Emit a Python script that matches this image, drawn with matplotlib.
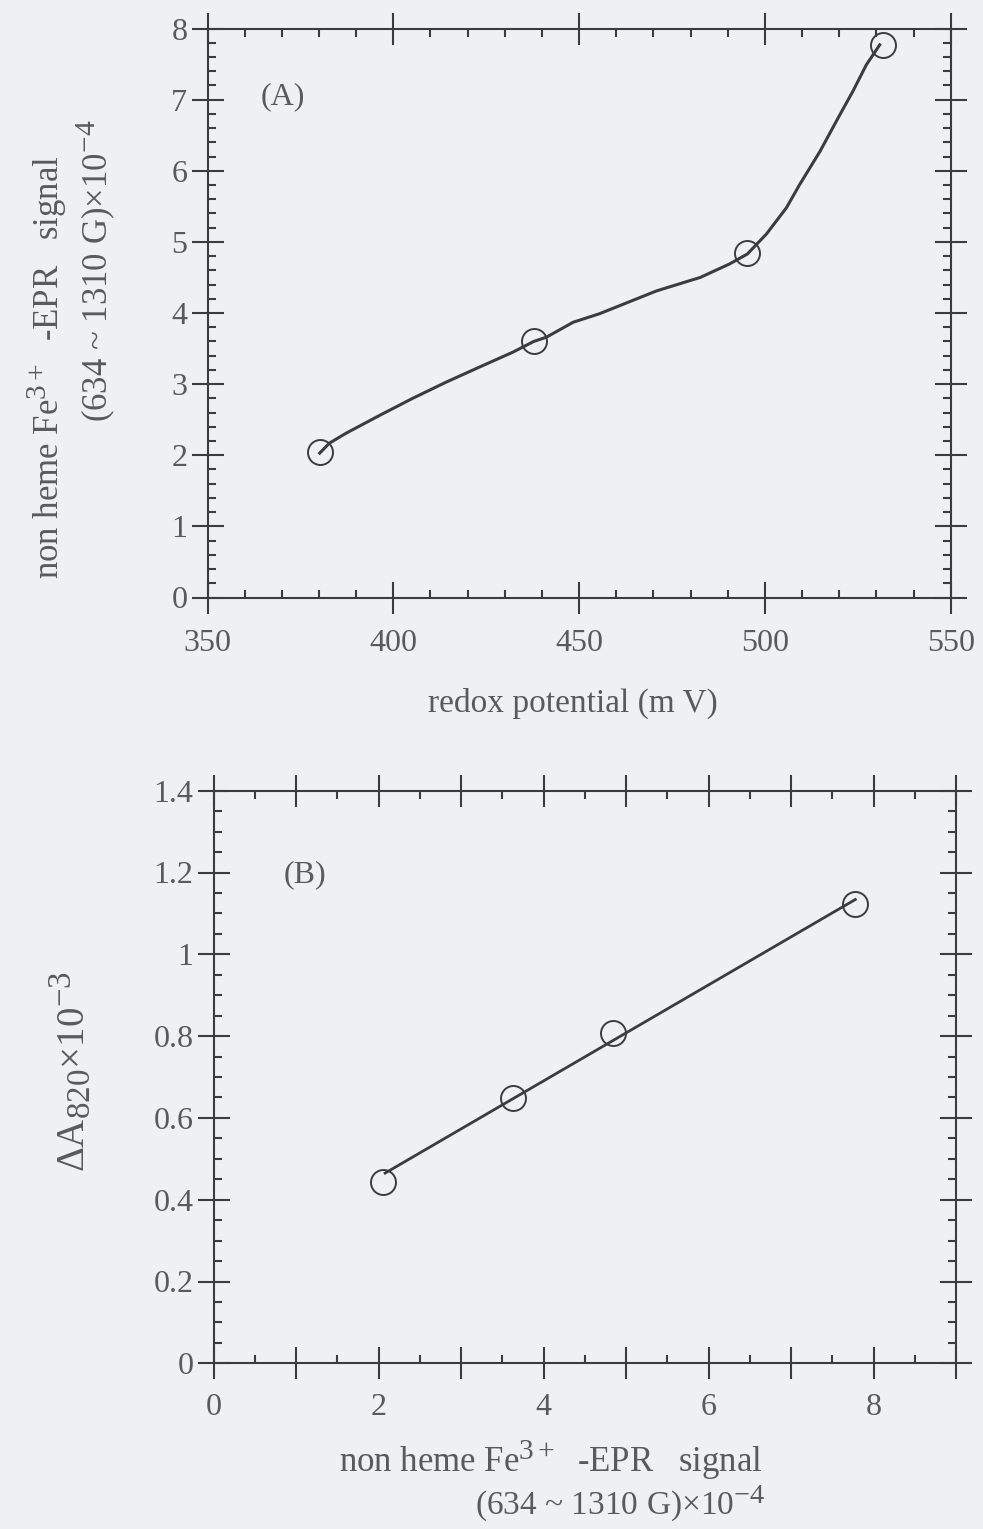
import matplotlib
matplotlib.use('Agg')
import matplotlib.pyplot as plt
from matplotlib.ticker import MultipleLocator, FuncFormatter

try:
    import matplotlib._mathtext as _mt
    _mt.SHRINK_FACTOR = 0.85
except Exception:
    pass

plt.rcParams['font.family'] = ['Liberation Serif', 'DejaVu Serif']
plt.rcParams['mathtext.fontset'] = 'custom'
plt.rcParams['mathtext.rm'] = 'Liberation Serif'
plt.rcParams['mathtext.it'] = 'Liberation Serif:italic'
plt.rcParams['mathtext.bf'] = 'Liberation Serif:bold'

# ---------------- Panel A data ----------------
potential_mv = [380.2, 437.8, 495.3, 531.8]
epr_signal = [2.04, 3.61, 4.84, 7.77]
curve_mv = [380.2, 382.8, 387.3, 396.3, 405.2, 414.3, 423.2, 432.2, 437.8, 441.2,
            448.4, 455.5, 470.8, 482.6, 490.5, 495.3, 500.4, 505.8, 509.4, 514.8,
            520.2, 523.7, 527.3, 530.9]
curve_epr = [2.03, 2.17, 2.31, 2.56, 2.80, 3.03, 3.24, 3.45, 3.60, 3.66,
             3.87, 3.99, 4.31, 4.50, 4.69, 4.83, 5.11, 5.48, 5.81, 6.27,
             6.79, 7.12, 7.49, 7.77]

# ---------------- Panel B data ----------------
epr_x = [2.06, 3.63, 4.84, 7.78]
dA820 = [0.444, 0.648, 0.807, 1.123]
fit_x = [2.08, 7.78]
fit_y = [0.465, 1.134]

BG = '#eff0f2'
LC = '#3c3c3c'
TC = '#5a5a5a'
W, H = 983, 1529

fig = plt.figure(figsize=(W / 100, H / 100), dpi=100, facecolor=BG)


def px_rect(l, t, r, b):
    return [l / W, 1 - b / H, (r - l) / W, (b - t) / H]


def style(ax, xpad):
    ax.set_facecolor(BG)
    for s in ax.spines.values():
        s.set_color(LC)
        s.set_linewidth(1.5)
    ax.tick_params(which='major', direction='inout', length=23, width=1.5,
                   top=True, right=True, color=LC, labelsize=23,
                   labelcolor=TC)
    ax.tick_params(which='minor', direction='in', length=6, width=1.5,
                   top=True, right=True, color=LC)
    ax.tick_params(axis='x', which='major', pad=xpad)
    ax.tick_params(axis='y', which='major', pad=3)


# ---------------- Panel A ----------------
axA = fig.add_axes(px_rect(207.5, 28.5, 950.7, 597.5))
style(axA, 11)
axA.plot(curve_mv, curve_epr, color=LC, lw=2.2, zorder=2)
axA.plot(potential_mv, epr_signal, 'o', mfc='none', mec=LC, ms=18, mew=1.4,
         zorder=3, clip_on=False)
axA.set_xlim(350, 550)
axA.set_ylim(0, 8)
axA.xaxis.set_major_locator(MultipleLocator(50))
axA.xaxis.set_minor_locator(MultipleLocator(10))
axA.yaxis.set_major_locator(MultipleLocator(1))
axA.yaxis.set_minor_locator(MultipleLocator(0.2))
axA.xaxis.set_major_formatter(FuncFormatter(lambda v, p: f"{v:.0f}"))
axA.yaxis.set_major_formatter(FuncFormatter(lambda v, p: f"{v:.0f}"))
axA.text(370.3, 7.04, '(A)', fontsize=23, color=TC, ha='center', va='center')

# ---------------- Panel B ----------------
axB = fig.add_axes(px_rect(213.5, 790.7, 956, 1363.3))
style(axB, 10)
axB.plot(fit_x, fit_y, color=LC, lw=2.0, zorder=2)
axB.plot(epr_x, dA820, 'o', mfc='none', mec=LC, ms=18, mew=1.4, zorder=3,
         clip_on=False)
axB.set_xlim(0, 9)
axB.set_ylim(0, 1.4)
axB.xaxis.set_major_locator(MultipleLocator(1))
axB.xaxis.set_minor_locator(MultipleLocator(0.5))
axB.yaxis.set_major_locator(MultipleLocator(0.2))
axB.yaxis.set_minor_locator(MultipleLocator(0.05))
axB.xaxis.set_major_formatter(
    FuncFormatter(lambda v, p: f"{int(round(v))}" if int(round(v)) % 2 == 0 else ""))
axB.yaxis.set_major_formatter(FuncFormatter(lambda v, p: f"{round(v, 2):g}"))
axB.text(1.11, 1.194, '(B)', fontsize=23, color=TC, ha='center', va='center')

# ---------------- Labels ----------------
def ftext(x, y, s, **kw):
    kw.setdefault('ha', 'center')
    kw.setdefault('va', 'center')
    fig.text(x / W, 1 - y / H, s, color=TC, **kw)


line1 = r'non heme Fe$^{\mathrm{3+}}$  -EPR   signal'
line2 = r'(634 ~ 1310 G)$\times$10$^{\mathrm{-4}}$'

ftext(47, 155, line1, fontsize=25, rotation=90, va='top')
ftext(95, 120, line2, fontsize=25, rotation=90, va='top')
ftext(573, 703, 'redox potential (m V)', fontsize=24)

ftext(72, 1072, r'$\Delta$A$_{\mathrm{820}}$$\times$10$^{\mathrm{-3}}$',
      fontsize=28, rotation=90)
ftext(763, 1460, line1, fontsize=25, ha='right')
ftext(766, 1504, line2, fontsize=24, ha='right')

fig.savefig('out.png', dpi=100, facecolor=BG)
